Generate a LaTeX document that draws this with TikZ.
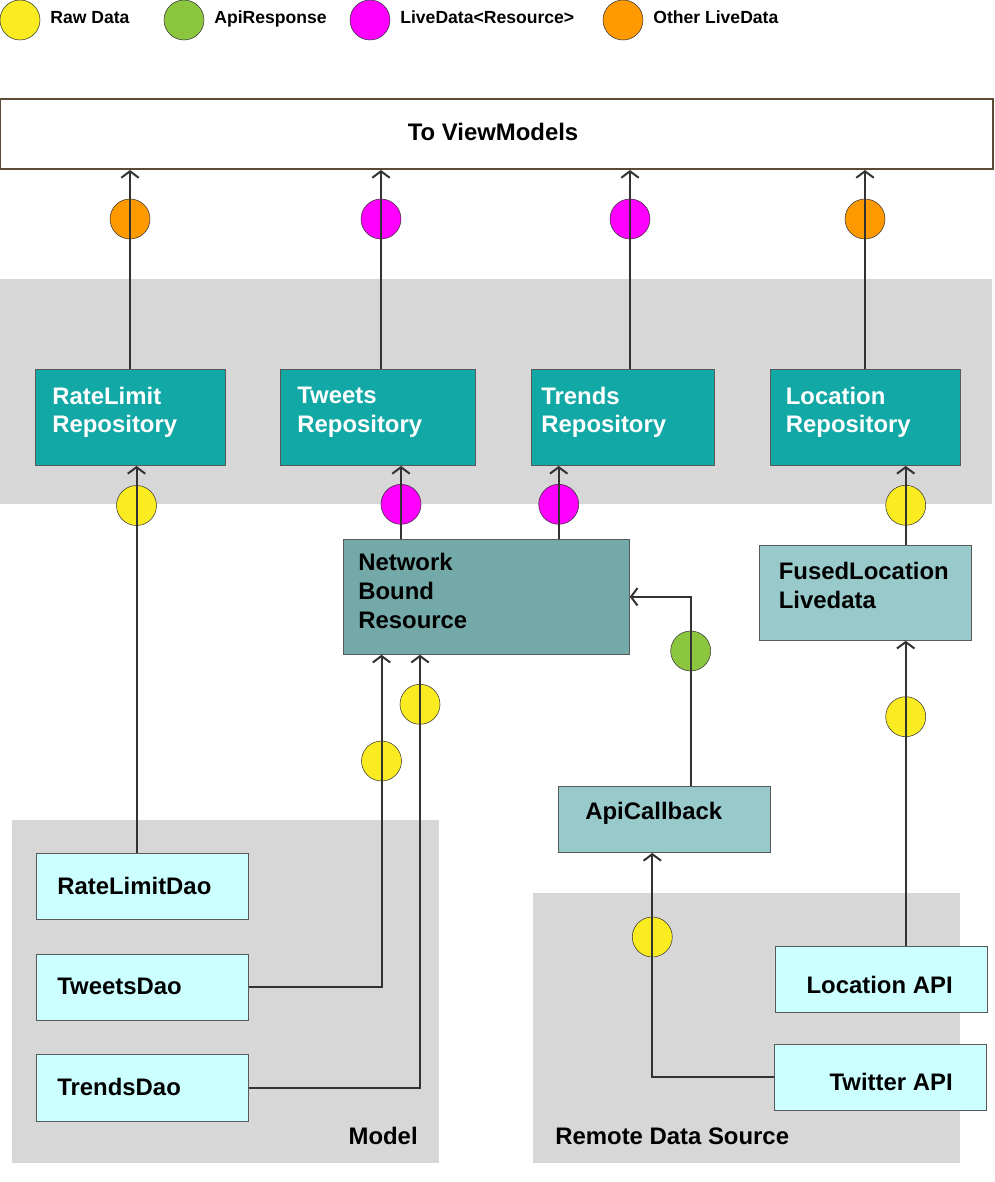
\documentclass[tikz,border=0pt]{standalone}
\usepackage{fontspec}
\setmainfont{Liberation Sans}
\usetikzlibrary{arrows.meta}
\usetikzlibrary{positioning}

\definecolor{rawcol}{HTML}{FBEC22}
\definecolor{apicol}{HTML}{8CC63F}
\definecolor{ldcol}{HTML}{FF00FF}
\definecolor{othcol}{HTML}{FF9900}
\definecolor{repocol}{HTML}{12A8A5}
\definecolor{nbrcol}{HTML}{73AAA9}
\definecolor{midcol}{HTML}{99CACB}
\definecolor{srccol}{HTML}{CCFFFF}
\definecolor{bandcol}{HTML}{D7D7D7}
\definecolor{vmcol}{HTML}{5B4A36}
\definecolor{linecol}{HTML}{333333}

\begin{document}
\begin{tikzpicture}[x=0.2mm,y=-0.2mm,>={Straight Barb[length=1.3mm,width=3.5mm]},
    flow/.style={->,draw=linecol,line width=0.4mm},
    dot/.style={circle,draw=linecol,line width=0.3pt,inner sep=0pt,minimum size=8mm},
    box/.style 2 args={rectangle,draw=black!65,line width=0.5pt,inner sep=0pt,minimum width=#1*0.2mm,minimum height=#2*0.2mm},
    txt/.style={inner sep=0pt,align=left,font=\fontsize{13.6}{16.4}\selectfont\bfseries},
    legtxt/.style={inner sep=0pt,font=\fontsize{10}{12}\selectfont\bfseries}]
  \useasboundingbox (0,0) rectangle (994,1182);
  % legend
  \node[dot,fill=rawcol] (lg1) at (20,20) {};
  \node[dot,fill=apicol] (lg2) at (184,20) {};
  \node[dot,fill=ldcol]  (lg3) at (370,20) {};
  \node[dot,fill=othcol] (lg4) at (623,20) {};
  \node[legtxt,anchor=base west] (lg1txt) at (50,24) {Raw Data};
  \node[legtxt,anchor=base west] (lg2txt) at (214,24) {ApiResponse};
  \node[legtxt,anchor=base west] (lg3txt) at (400,24) {LiveData<Resource>};
  \node[legtxt,anchor=base west] (lg4txt) at (653,24) {Other LiveData};
  % gray areas
  \fill[bandcol] (0,279) rectangle (992,504);
  \fill[bandcol] (12,820) rectangle (439,1163);
  \fill[bandcol] (533,893) rectangle (960,1163);
  % to viewmodels
  \node[box={993}{70},draw=vmcol,line width=0.4mm,fill=white] (tovm) at (496.5,134) {};
  \node[txt,anchor=north] (tovmtxt) at (493,123) {To ViewModels};
  % repositories
  \node[box={190}{96},fill=repocol] (rlrepo) at (130.5,417.5) {};
  \node[box={195}{96},fill=repocol] (twrepo) at (378.3,417.5) {};
  \node[box={183}{96},fill=repocol] (trrepo) at (622.6,417.5) {};
  \node[box={190}{96},fill=repocol] (lcrepo) at (865.3,417.5) {};
  \node[txt,text=white,anchor=north west] (rlrepotxt) at (52,386.5) {RateLimit\\Repository};
  \node[txt,text=white,anchor=north west] (twrepotxt) at (297,386.5) {Tweets\\Repository};
  \node[txt,text=white,anchor=north west] (trrepotxt) at (541,386.5) {Trends\\Repository};
  \node[txt,text=white,anchor=north west] (lcrepotxt) at (785.5,386.5) {Location\\Repository};
  % middle layer
  \node[box={286}{115},fill=nbrcol] (nbr) at (486.3,596.8) {};
  \node[txt,anchor=north west] (nbrtxt) at (358,553) {Network\\Bound\\Resource};
  \node[box={212}{95},fill=midcol] (fused) at (865.3,592.8) {};
  \node[txt,anchor=north west] (fusedtxt) at (778.5,562) {FusedLocation\\Livedata};
  \node[box={212}{66},fill=midcol] (apicb) at (664.5,819.5) {};
  \node[txt,anchor=north west] (apicbtxt) at (585,802) {ApiCallback};
  % model
  \node[box={212}{66},fill=srccol] (rldao) at (142.5,886.3) {};
  \node[box={212}{66},fill=srccol] (twdao) at (142.5,987.2) {};
  \node[box={212}{67},fill=srccol] (trdao) at (142.5,1087.8) {};
  \node[txt,anchor=north west] (rldaotxt) at (57,877) {RateLimitDao};
  \node[txt,anchor=north west] (twdaotxt) at (57,978) {TweetsDao};
  \node[txt,anchor=north west] (trdaotxt) at (57,1078) {TrendsDao};
  \node[txt,anchor=north east] (modeltxt) at (418,1127) {Model};
  % remote data source
  \node[box={212}{66},fill=srccol] (lcapi) at (881.5,979.5) {};
  \node[box={212}{66},fill=srccol] (twapi) at (880.5,1077.3) {};
  \node[txt,anchor=north east] (lcapitxt) at (953,976) {Location API};
  \node[txt,anchor=north east] (twapitxt) at (953,1073) {Twitter API};
  \node[txt,anchor=north west] (remotetxt) at (555,1127) {Remote Data Source};
  % data dots
  \node[dot,fill=othcol] (o1) at (130,219) {};
  \node[dot,fill=ldcol]  (m1) at (381,219) {};
  \node[dot,fill=ldcol]  (m2) at (630,219) {};
  \node[dot,fill=othcol] (o2) at (865,219) {};
  \node[dot,fill=rawcol] (y1) at (136.5,505.5) {};
  \node[dot,fill=ldcol]  (m3) at (401,504.3) {};
  \node[dot,fill=ldcol]  (m4) at (558.7,504.3) {};
  \node[dot,fill=rawcol] (y2) at (905.7,505.3) {};
  \node[dot,fill=apicol] (g1) at (690.7,651) {};
  \node[dot,fill=rawcol] (y3) at (420,704.3) {};
  \node[dot,fill=rawcol] (y4) at (381.5,761) {};
  \node[dot,fill=rawcol] (y5) at (905.7,716.7) {};
  \node[dot,fill=rawcol] (y6) at (652.3,937) {};
  % connectors
  \draw[flow] (rlrepo.north -| o1) -- (o1 |- tovm.south);
  \draw[flow] (twrepo.north -| m1) -- (m1 |- tovm.south);
  \draw[flow] (trrepo.north -| m2) -- (m2 |- tovm.south);
  \draw[flow] (lcrepo.north -| o2) -- (o2 |- tovm.south);
  \draw[flow] (rldao.north -| y1) -- (y1 |- rlrepo.south);
  \draw[flow] (nbr.north -| m3) -- (m3 |- twrepo.south);
  \draw[flow] (nbr.north -| m4) -- (m4 |- trrepo.south);
  \draw[flow] (fused.north -| y2) -- (y2 |- lcrepo.south);
  \draw[flow] (apicb.north -| g1) |- (nbr.east);
  \draw[flow] (twdao.east) -| (y4 |- nbr.south);
  \draw[flow] (trdao.east) -| (y3 |- nbr.south);
  \draw[flow] (twapi.west) -| (y6 |- apicb.south);
  \draw[flow] (lcapi.north -| y5) -- (y5 |- fused.south);
\end{tikzpicture}
\end{document}
